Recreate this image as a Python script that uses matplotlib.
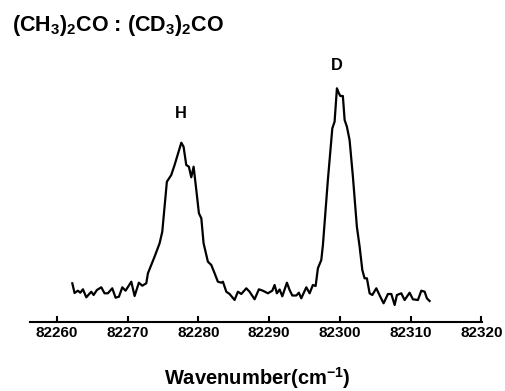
import matplotlib
matplotlib.use("Agg")
import matplotlib.pyplot as plt

plt.rcParams['font.family'] = ['Liberation Sans', 'DejaVu Sans']
plt.rcParams['font.weight'] = 'bold'
plt.rcParams['mathtext.fontset'] = 'custom'
plt.rcParams['mathtext.rm'] = 'Liberation Sans:bold'
plt.rcParams['mathtext.it'] = 'Liberation Sans:bold'
plt.rcParams['mathtext.bf'] = 'Liberation Sans:bold'

wavenumber = [
    82262.18, 82262.50, 82262.97, 82263.31, 82263.68, 82264.16, 82264.86, 82265.19,
    82265.66, 82266.28, 82266.74, 82267.21, 82267.83, 82268.30, 82268.77, 82269.25,
    82269.71, 82270.52, 82270.99, 82271.59, 82272.07, 82272.64, 82272.87, 82273.81,
    82274.52, 82274.90, 82275.55, 82276.17, 82276.64, 82277.59, 82277.91, 82278.29,
    82278.66, 82279.00, 82279.33, 82279.71, 82280.08, 82280.42, 82280.74, 82281.35,
    82281.83, 82282.30, 82282.76, 82283.24, 82283.47, 82283.95, 82284.42, 82285.12,
    82285.59, 82286.07, 82286.78, 82287.24, 82287.95, 82288.56, 82289.12, 82289.83,
    82290.45, 82290.78, 82291.10, 82291.49, 82291.87, 82292.52, 82292.90, 82293.28,
    82293.85, 82294.21, 82294.55, 82295.26, 82295.73, 82296.19, 82296.58, 82296.90,
    82297.38, 82297.61, 82298.31, 82298.94, 82299.26, 82299.59, 82299.87, 82300.07,
    82300.43, 82300.68, 82301.00, 82301.38, 82301.85, 82302.41, 82302.80, 82303.18,
    82303.50, 82303.83, 82304.21, 82304.59, 82305.16, 82305.72, 82306.19, 82306.80,
    82307.28, 82307.75, 82308.07, 82308.69, 82309.16, 82309.87, 82310.33, 82311.04,
    82311.52, 82311.99, 82312.31, 82312.69,
]
intensity = [
    38.7, 29.0, 31.3, 29.3, 32.7, 24.7, 30.3, 27.0,
    32.0, 34.7, 28.7, 28.7, 33.7, 24.3, 25.3, 34.7,
    31.3, 40.3, 26.0, 39.3, 36.3, 38.7, 48.7, 65.3,
    78.7, 90.3, 140.3, 147.0, 157.0, 179.3, 175.3, 157.0,
    155.3, 144.7, 155.3, 132.0, 108.7, 103.7, 78.7, 60.3,
    57.0, 48.7, 40.3, 39.3, 40.3, 30.3, 28.0, 22.0,
    30.3, 28.0, 33.7, 30.3, 22.7, 32.7, 31.3, 28.7,
    31.3, 37.0, 28.7, 32.5, 25.7, 39.3, 32.0, 26.5,
    26.5, 29.3, 23.7, 34.7, 28.7, 37.0, 36.0, 53.7,
    62.0, 77.0, 142.0, 193.7, 200.3, 233.7, 228.7, 226.0,
    226.0, 202.0, 195.3, 182.0, 145.3, 95.3, 75.3, 52.0,
    43.7, 43.7, 28.7, 27.0, 33.7, 25.3, 18.7, 28.0,
    28.0, 17.0, 27.0, 28.7, 22.0, 29.3, 22.7, 22.0,
    31.3, 30.3, 23.7, 21.0,
]
xticks = [82260, 82270, 82280, 82290, 82300, 82310, 82320]
title = r'(CH$_3$)$_2$CO : (CD$_3$)$_2$CO'
xlabel = r'Wavenumber(cm$^{-1}$)'
peak_labels = [("H", 82277.56, 204), ("D", 82299.6, 252)]

fig = plt.figure(figsize=(5.05, 3.91), dpi=100)
ax = fig.add_axes([30/505, 69/391, 452/505, 262/391])
ax.plot(wavenumber, intensity, color='black', lw=1.6)
ax.set_xlim(82256.2, 82320.1)
ax.set_ylim(0, 262)
for s in ['top', 'right', 'left']:
    ax.spines[s].set_visible(False)
ax.spines['bottom'].set_linewidth(1.5)
ax.set_yticks([])
ax.set_xticks(xticks)
ax.set_xticklabels([str(t) for t in xticks])
ax.tick_params(axis='x', direction='in', length=4, width=1.5, pad=3, labelsize=11)
for lab in ax.get_xticklabels():
    lab.set_fontweight('bold')

fig.text(257/505, 1 - 385/391, xlabel, ha='center', va='baseline', fontsize=14.5, fontweight='bold')

for txt, x, y in peak_labels:
    ax.text(x, y, txt, ha='center', va='baseline', fontsize=11.8, fontweight='bold')

fig.text(12/505, 1 - 31/391, title, ha='left', va='baseline', fontsize=15.5, fontweight='bold')

fig.savefig('out.png', dpi=100)
